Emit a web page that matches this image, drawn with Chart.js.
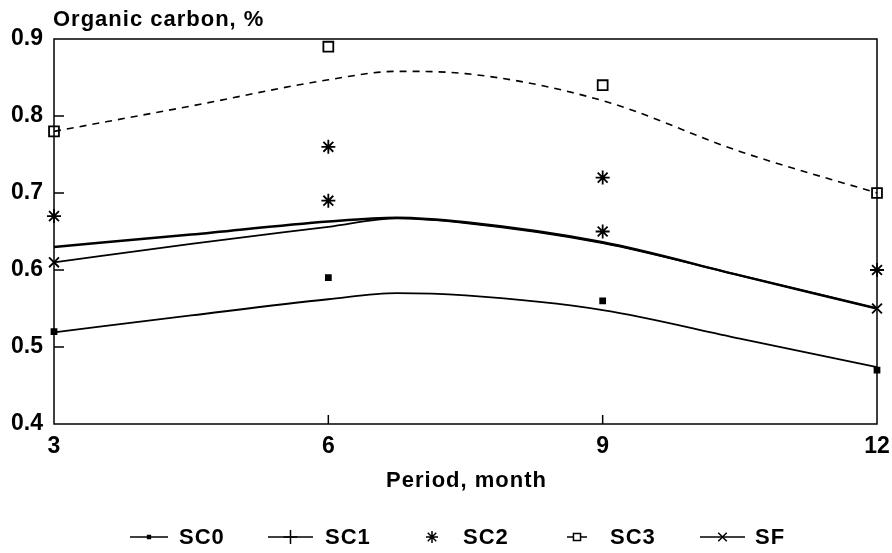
<!DOCTYPE html>
<html>
<head>
<meta charset="utf-8">
<script src="https://cdn.jsdelivr.net/npm/chart.js@4/dist/chart.umd.min.js"></script>
<style>
  html, body { margin: 0; padding: 0; background: #fff; }
  #wrap { width: 892px; height: 553px; }
</style>
</head>
<body>
<div id="wrap"><canvas id="myChart" width="892" height="553"></canvas></div>
<script>
// observed values
const months = [3, 6, 9, 12];
const sc0Obs = [0.52, 0.59, 0.56, 0.47];
const sc2Obs = [0.67, 0.76, 0.72, 0.60];
const sc3Obs = [0.78, 0.89, 0.84, 0.70];
const sfObs  = [0.61, 0.69, 0.65, 0.55];

// fitted curves
const fitMonths = [3, 4.5, 6, 6.75, 7.5, 9, 10.5, 12];
const sc0Fit = [0.519, 0.541, 0.562, 0.570, 0.567, 0.548, 0.511, 0.474];
const sc1Fit = [0.630, 0.646, 0.663, 0.668, 0.662, 0.636, 0.593, 0.550];
const sc3Fit = [0.780, 0.813, 0.847, 0.858, 0.855, 0.820, 0.754, 0.700];
const sfFit  = [0.610, 0.634, 0.656, 0.667, 0.661, 0.635, 0.593, 0.550];

const yTicks = [0.4, 0.5, 0.6, 0.7, 0.8, 0.9];
const xTicks = [3, 6, 9, 12];

const FONT = '"Liberation Sans", Arial, sans-serif';

function pts(xs, ys) { return xs.map((x, i) => ({x: x, y: ys[i]})); }

function lineSet(label, ys, width, dash) {
  return {
    label: label, data: pts(fitMonths, ys), showLine: true, pointRadius: 0,
    borderColor: '#000', borderWidth: width, borderDash: dash || [],
    cubicInterpolationMode: 'monotone', clip: false
  };
}
function markSet(label, ys, style, r) {
  return {
    label: label, data: pts(months, ys), showLine: false, pointStyle: style,
    pointRadius: r, pointHoverRadius: r, borderColor: '#000', backgroundColor: '#000',
    pointBorderWidth: 1.8, clip: false
  };
}

const legendItems = [
  {text: 'SC0', x0: 130, x1: 168, style: 'rect', r: 2, fill: true, tx: 179},
  {text: 'SC1', x0: 268, x1: 313, style: 'cross', r: 7, tx: 325},
  {text: 'SC2', x0: null, x1: null, mx: 432, style: 'star', r: 6, tx: 463},
  {text: 'SC3', x0: 567, x1: 587, style: 'rect', r: 5, tx: 610},
  {text: 'SF', x0: 700, x1: 745, style: 'crossRot', r: 6, tx: 755}
];

const frame = {
  id: 'frame',
  afterDraw(chart) {
    const {ctx, chartArea: a, scales} = chart;
    ctx.save();
    ctx.strokeStyle = '#000';
    ctx.lineWidth = 1.5;
    ctx.strokeRect(a.left, a.top, a.right - a.left, a.bottom - a.top);
    ctx.beginPath();
    yTicks.slice(1, -1).forEach(v => {
      const y = scales.y.getPixelForValue(v);
      ctx.moveTo(a.left, y); ctx.lineTo(a.left + 10, y);
    });
    xTicks.slice(1, -1).forEach(v => {
      const x = scales.x.getPixelForValue(v);
      ctx.moveTo(x, a.bottom); ctx.lineTo(x, a.bottom - 9);
    });
    ctx.stroke();

    ctx.fillStyle = '#000';
    ctx.letterSpacing = '1px';
    ctx.font = 'bold 22px ' + FONT;
    ctx.textBaseline = 'alphabetic';
    ctx.textAlign = 'left';
    ctx.fillText('Organic carbon, %', 53, 26);
    ctx.textAlign = 'center';
    ctx.fillText('Period, month', (a.left + a.right) / 2 + 1, 487);

    // legend
    const ly = 537;
    ctx.font = 'bold 22px ' + FONT;
    ctx.textBaseline = 'middle';
    ctx.textAlign = 'left';
    legendItems.forEach(it => {
      ctx.lineWidth = 1.5;
      ctx.setLineDash([]);
      if (it.x0 !== null) {
        ctx.beginPath();
        ctx.moveTo(it.x0, ly); ctx.lineTo(it.x1, ly);
        ctx.stroke();
      }
      const mx = it.mx || (it.x0 + it.x1) / 2;
      ctx.fillStyle = it.fill ? '#000' : '#fff';
      Chart.helpers.drawPoint(ctx, {pointStyle: it.style, radius: it.r, borderWidth: 1.5, rotation: 0}, mx, ly);
      if (it.fill) ctx.fill();
      ctx.fillStyle = '#000';
      ctx.fillText(it.text, it.tx, ly + 1);
    });
    ctx.restore();
  }
};

new Chart(document.getElementById('myChart'), {
  type: 'scatter',
  data: {
    datasets: [
      lineSet('SC0 fit', sc0Fit, 1.8),
      lineSet('SC1 fit', sc1Fit, 2.5),
      lineSet('SC3 fit', sc3Fit, 1.6, [7, 6]),
      lineSet('SF fit', sfFit, 1.8),
      markSet('SC0', sc0Obs, 'rect', 3.5),
      markSet('SC2', sc2Obs, 'star', 7),
      Object.assign(markSet('SC3', sc3Obs, 'rect', 7), {backgroundColor: '#fff'}),
      Object.assign(markSet('SF', sfObs, 'star', 7), {pointStyle: ['crossRot', 'star', 'star', 'crossRot']})
    ]
  },
  options: {
    responsive: false,
    animation: false,
    layout: {padding: {top: 39, right: 15, left: 0, bottom: 0}},
    plugins: {legend: {display: false}, tooltip: {enabled: false}, title: {display: false}},
    scales: {
      x: {
        type: 'linear', min: 3, max: 12,
        afterBuildTicks: s => { s.ticks = xTicks.map(v => ({value: v})); },
        afterFit: s => { s.height = 129; },
        grid: {display: false},
        border: {display: false},
        ticks: {color: '#000', font: {family: FONT, size: 23, weight: 'bold'}, padding: 1, maxRotation: 0}
      },
      y: {
        min: 0.4, max: 0.9,
        afterBuildTicks: s => { s.ticks = yTicks.map(v => ({value: v})); },
        afterFit: s => { s.width = 54; },
        grid: {display: false},
        border: {display: false},
        ticks: {color: '#000', font: {family: FONT, size: 23, weight: 'bold'}, padding: 3,
                callback: v => v.toFixed(1)}
      }
    }
  },
  plugins: [frame]
});
</script>
</body>
</html>
